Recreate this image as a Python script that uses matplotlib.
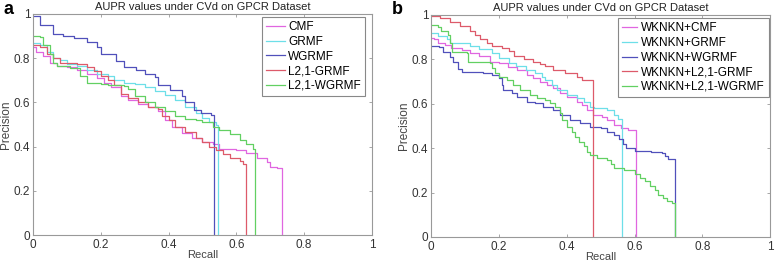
import matplotlib
matplotlib.use('Agg')
import matplotlib.pyplot as plt

plt.rcParams['font.family'] = ['Liberation Sans', 'DejaVu Sans']

# ---- panel a : precision / recall points (step curves) ----
cmf_r = [0, 0.01, 0.03, 0.05, 0.07, 0.10, 0.13, 0.16, 0.19, 0.21, 0.23, 0.26, 0.28, 0.31, 0.34,
         0.37, 0.39, 0.41, 0.44, 0.47, 0.50, 0.53, 0.55, 0.60, 0.63, 0.66, 0.69, 0.70, 0.72]
cmf_p = [0.85, 0.83, 0.81, 0.78, 0.765, 0.76, 0.745, 0.73, 0.71, 0.69, 0.67, 0.63, 0.61, 0.595, 0.58,
         0.56, 0.52, 0.49, 0.46, 0.44, 0.42, 0.41, 0.39, 0.385, 0.37, 0.35, 0.33, 0.31, 0.305]
cmf_end = 0.735

grmf_r = [0, 0.02, 0.04, 0.06, 0.08, 0.10, 0.13, 0.16, 0.19, 0.22, 0.24, 0.27, 0.30, 0.33, 0.36,
          0.39, 0.42, 0.45, 0.48, 0.50, 0.52, 0.54]
grmf_p = [0.87, 0.86, 0.83, 0.80, 0.79, 0.775, 0.765, 0.745, 0.73, 0.72, 0.70, 0.69, 0.685, 0.67, 0.65,
          0.635, 0.61, 0.58, 0.55, 0.53, 0.51, 0.50]
grmf_end = 0.545

wgrmf_r = [0, 0.02, 0.06, 0.09, 0.12, 0.16, 0.19, 0.20, 0.245, 0.27, 0.305, 0.33, 0.36, 0.37,
           0.405, 0.44, 0.45, 0.475, 0.495, 0.525]
wgrmf_p = [0.99, 0.95, 0.91, 0.90, 0.89, 0.875, 0.85, 0.82, 0.785, 0.76, 0.745, 0.73, 0.715, 0.68,
           0.655, 0.63, 0.60, 0.565, 0.55, 0.543]
wgrmf_end = 0.533

l21grmf_r = [0, 0.02, 0.04, 0.06, 0.08, 0.13, 0.16, 0.18, 0.20, 0.22, 0.24, 0.26, 0.28, 0.31, 0.34,
             0.37, 0.38, 0.40, 0.42, 0.45, 0.48, 0.50, 0.52, 0.54, 0.56, 0.58, 0.61, 0.62]
l21grmf_p = [0.86, 0.85, 0.82, 0.80, 0.78, 0.775, 0.76, 0.74, 0.72, 0.70, 0.68, 0.64, 0.62, 0.60, 0.58,
             0.57, 0.54, 0.52, 0.49, 0.465, 0.44, 0.42, 0.40, 0.385, 0.365, 0.35, 0.335, 0.32]
l21grmf_end = 0.63

l21wgrmf_r = [0, 0.02, 0.03, 0.05, 0.06, 0.07, 0.11, 0.14, 0.16, 0.20, 0.22, 0.27, 0.28, 0.30, 0.33,
              0.36, 0.39, 0.42, 0.45, 0.48, 0.50, 0.53, 0.55, 0.58, 0.61, 0.63, 0.65]
l21wgrmf_p = [0.90, 0.895, 0.86, 0.82, 0.78, 0.765, 0.755, 0.72, 0.69, 0.685, 0.68, 0.675, 0.66, 0.63, 0.60,
              0.58, 0.56, 0.54, 0.525, 0.52, 0.51, 0.49, 0.475, 0.455, 0.43, 0.41, 0.39]
l21wgrmf_end = 0.655

# ---- panel b : WKNKN variants ----
k_cmf_r = [0, 0.01, 0.02, 0.04, 0.06, 0.09, 0.115, 0.14, 0.175, 0.20, 0.228, 0.253, 0.282, 0.302,
           0.322, 0.341, 0.361, 0.38, 0.40, 0.43, 0.445, 0.459, 0.479, 0.503, 0.518, 0.538, 0.56, 0.58]
k_cmf_p = [0.895, 0.89, 0.872, 0.865, 0.85, 0.843, 0.83, 0.815, 0.79, 0.782, 0.767, 0.752, 0.73, 0.715,
           0.70, 0.685, 0.67, 0.647, 0.632, 0.61, 0.595, 0.572, 0.55, 0.542, 0.527, 0.505, 0.49, 0.482]
k_cmf_end = 0.605

k_grmf_r = [0, 0.02, 0.046, 0.056, 0.115, 0.14, 0.18, 0.20, 0.23, 0.25, 0.28, 0.307, 0.327, 0.336,
            0.356, 0.37, 0.40, 0.43, 0.45, 0.47, 0.48, 0.52, 0.54, 0.55]
k_grmf_p = [0.92, 0.905, 0.89, 0.875, 0.86, 0.845, 0.83, 0.805, 0.785, 0.77, 0.752, 0.737, 0.722, 0.707,
            0.685, 0.662, 0.64, 0.625, 0.61, 0.587, 0.58, 0.572, 0.55, 0.53]
k_grmf_end = 0.562

k_wgrmf_r = [0, 0.025, 0.036, 0.056, 0.066, 0.081, 0.09, 0.154, 0.179, 0.20, 0.208, 0.213, 0.238,
             0.253, 0.282, 0.307, 0.331, 0.36, 0.38, 0.41, 0.44, 0.47, 0.50, 0.52, 0.54, 0.555,
             0.565, 0.575, 0.60, 0.65, 0.68, 0.69, 0.70]
k_wgrmf_p = [0.86, 0.855, 0.835, 0.81, 0.787, 0.757, 0.742, 0.737, 0.73, 0.715, 0.685, 0.662, 0.647,
             0.632, 0.61, 0.602, 0.587, 0.572, 0.55, 0.527, 0.512, 0.497, 0.49, 0.475, 0.46, 0.44,
             0.42, 0.40, 0.387, 0.385, 0.38, 0.365, 0.35]
k_wgrmf_end = 0.72

k_l21grmf_r = [0, 0.027, 0.056, 0.085, 0.115, 0.13, 0.145, 0.165, 0.18, 0.21, 0.23, 0.245, 0.275,
               0.30, 0.32, 0.335, 0.36, 0.395, 0.43, 0.445]
k_l21grmf_p = [0.995, 0.985, 0.97, 0.95, 0.93, 0.91, 0.89, 0.875, 0.86, 0.85, 0.84, 0.815, 0.80,
               0.79, 0.78, 0.77, 0.752, 0.737, 0.722, 0.707]
k_l21grmf_end = 0.478

k_l21wgrmf_r = [0, 0.02, 0.03, 0.051, 0.056, 0.061, 0.105, 0.11, 0.174, 0.179, 0.189, 0.20, 0.223,
                0.243, 0.263, 0.292, 0.312, 0.336, 0.351, 0.366, 0.38, 0.386, 0.40, 0.415, 0.425,
                0.435, 0.45, 0.46, 0.47, 0.49, 0.52, 0.53, 0.54, 0.57, 0.60, 0.615, 0.63, 0.645,
                0.66, 0.67, 0.685, 0.695, 0.71]
k_l21wgrmf_p = [0.955, 0.948, 0.93, 0.91, 0.872, 0.835, 0.827, 0.79, 0.785, 0.76, 0.737, 0.722, 0.707,
                0.685, 0.662, 0.64, 0.625, 0.617, 0.602, 0.587, 0.557, 0.527, 0.497, 0.474, 0.452,
                0.43, 0.41, 0.385, 0.37, 0.355, 0.345, 0.33, 0.31, 0.30, 0.285, 0.265, 0.25, 0.23,
                0.21, 0.19, 0.175, 0.16, 0.155]
k_l21wgrmf_end = 0.72

colors = ['#e066e0', '#6ddfe8', '#5050bb', '#dd5a6a', '#62d062']

panel_a = [('CMF', cmf_r, cmf_p, cmf_end),
           ('GRMF', grmf_r, grmf_p, grmf_end),
           ('WGRMF', wgrmf_r, wgrmf_p, wgrmf_end),
           ('L2,1-GRMF', l21grmf_r, l21grmf_p, l21grmf_end),
           ('L2,1-WGRMF', l21wgrmf_r, l21wgrmf_p, l21wgrmf_end)]
panel_b = [('WKNKN+CMF', k_cmf_r, k_cmf_p, k_cmf_end),
           ('WKNKN+GRMF', k_grmf_r, k_grmf_p, k_grmf_end),
           ('WKNKN+WGRMF', k_wgrmf_r, k_wgrmf_p, k_wgrmf_end),
           ('WKNKN+L2,1-GRMF', k_l21grmf_r, k_l21grmf_p, k_l21grmf_end),
           ('WKNKN+L2,1-WGRMF', k_l21wgrmf_r, k_l21wgrmf_p, k_l21wgrmf_end)]

ticks = [0, 0.2, 0.4, 0.6, 0.8, 1]
tick_lbl = ['0', '0.2', '0.4', '0.6', '0.8', '1']

fig = plt.figure(figsize=(7.78, 2.63), dpi=100)
ax1 = fig.add_axes([0.0424, 0.106, 0.4356, 0.841])
ax2 = fig.add_axes([0.554, 0.099, 0.436, 0.844])


def draw_panel(ax, series, handle_len, anchor_x):
    for (name, r, p, end), c in zip(series, colors):
        # ступенька до конца и падение до нуля
        xs = list(r) + [end, end]
        ys = list(p) + [p[-1], 0]
        ax.plot(xs, ys, drawstyle='steps-post', color=c, lw=0.9, label=name)
    ax.set_xlim(0, 1)
    ax.set_ylim(0, 1)
    ax.set_xticks(ticks)
    ax.set_xticklabels(tick_lbl)
    ax.set_yticks(ticks)
    ax.set_yticklabels(tick_lbl)
    ax.tick_params(direction='in', length=2.5, width=0.6, colors='#999999',
                   labelcolor='#333333', labelsize=8.5, top=True, right=True)
    ax.tick_params(axis='x', pad=3)
    ax.tick_params(axis='y', pad=2)
    for s in ax.spines.values():
        s.set_color('#999999')
        s.set_linewidth(0.8)
    ax.set_xlabel('Recall', fontsize=8, color='#444444', labelpad=-1)
    ax.set_ylabel('Precision', fontsize=8.5, color='#444444', labelpad=1)
    ax.set_title('AUPR values under CVd on GPCR Dataset', fontsize=8, color='#222222', pad=3)
    leg = ax.legend(loc='upper right', bbox_to_anchor=(anchor_x, 0.985), fontsize=8.5,
                    frameon=True, fancybox=False, framealpha=1, edgecolor='#888888',
                    borderaxespad=0, handlelength=handle_len, handletextpad=0.3,
                    labelspacing=0.22, borderpad=0.35)
    leg.get_frame().set_linewidth(0.8)


draw_panel(ax1, panel_a, 1.6, 0.98)
draw_panel(ax2, panel_b, 1.3, 0.995)

fig.text(0.004, 0.965, 'a', fontsize=13, fontweight='bold', va='center')
fig.text(0.503, 0.965, 'b', fontsize=13, fontweight='bold', va='center')

plt.savefig('out.png', dpi=100)
